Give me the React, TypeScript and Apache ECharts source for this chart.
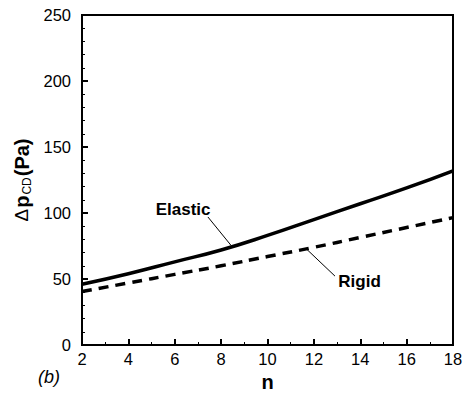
import React, { useEffect, useRef } from "react";
import * as echarts from "echarts";

const nValues = [2, 4, 6, 8, 10, 12, 14, 16, 18];
const elastic = [46, 54, 63, 72, 83, 95, 107, 119, 132];
const rigid = [40.5, 47, 53.5, 60, 67, 74, 81.5, 89, 96.5];

const FONT = "'Liberation Sans', Arial, Helvetica, sans-serif";

// annotations in data coordinates: label position, leader start, leader end
const annElastic = { text: "Elastic", label: [6.36, 103], from: [7.43, 97], to: [8.43, 75.4] };
const annRigid = { text: "Rigid", label: [13.97, 48.1], from: [12.91, 52.2], to: [11.7, 72.4] };

export default function App() {
  const ref = useRef<HTMLDivElement>(null);
  useEffect(() => {
    if (!ref.current) return;
    const chart = echarts.init(ref.current, null, { renderer: "svg" });
    const axisCommon = {
      axisLine: { show: true, onZero: false, lineStyle: { color: "#000", width: 2 } },
      axisTick: { show: true, inside: true, length: 6, lineStyle: { color: "#000", width: 2 } },
      minorTick: { show: true, length: 3, lineStyle: { color: "#000", width: 1 } },
      splitLine: { show: false },
      axisLabel: { color: "#000", fontFamily: FONT, fontSize: 16.5 },
    };
    chart.setOption({
      animation: false,
      backgroundColor: "#fff",
      grid: { left: 82, right: 13, top: 15, bottom: 49, show: true, borderColor: "#000", borderWidth: 2 },
      xAxis: {
        type: "value",
        min: 2,
        max: 18,
        interval: 2,
        ...axisCommon,
        minorTick: { ...axisCommon.minorTick, splitNumber: 2 },
        axisLabel: { ...axisCommon.axisLabel, margin: 5 },
        name: "n",
        nameLocation: "middle",
        nameGap: 27,
        nameTextStyle: { color: "#000", fontFamily: FONT, fontSize: 20, fontWeight: "bold" },
      },
      yAxis: {
        type: "value",
        min: 0,
        max: 250,
        interval: 50,
        ...axisCommon,
        minorTick: { ...axisCommon.minorTick, splitNumber: 5 },
        axisLabel: { ...axisCommon.axisLabel, margin: 11 },
        name: "{d|Δ}{p|p}{s|CD}{p|(Pa)}",
        nameLocation: "middle",
        nameRotate: 90,
        nameGap: 48,
        nameTextStyle: {
          color: "#000",
          fontFamily: FONT,
          rich: {
            d: { fontFamily: FONT, fontSize: 19, color: "#000", lineHeight: 22, padding: [0, 1, 0, 0] },
            p: { fontFamily: FONT, fontSize: 20, fontWeight: "bold", color: "#000", lineHeight: 22 },
            s: { fontFamily: FONT, fontSize: 12, color: "#000", verticalAlign: "bottom", lineHeight: 22, padding: [0, 1, 0, 1] },
          },
        },
      },
      series: [
        {
          name: "Elastic",
          type: "line",
          smooth: true,
          showSymbol: false,
          data: nValues.map((n, i) => [n, elastic[i]]),
          lineStyle: { color: "#000", width: 3.5 },
        },
        {
          name: "Rigid",
          type: "line",
          smooth: true,
          showSymbol: false,
          data: nValues.map((n, i) => [n, rigid[i]]),
          lineStyle: { color: "#000", width: 3.5, type: [10, 7] },
        },
      ],
    });
    const px = (p: number[]) => chart.convertToPixel({ gridIndex: 0 }, p) as number[];
    const annGraphic = (a: typeof annElastic) => {
      const l = px(a.label);
      const f = px(a.from);
      const t = px(a.to);
      return [
        {
          type: "text",
          x: l[0],
          y: l[1],
          style: { text: a.text, fill: "#000", font: `bold 17px ${FONT}`, textAlign: "center", textVerticalAlign: "middle" },
        },
        {
          type: "line",
          shape: { x1: f[0], y1: f[1], x2: t[0], y2: t[1] },
          style: { stroke: "#000", lineWidth: 1 },
        },
      ];
    };
    chart.setOption({
      graphic: [
        ...annGraphic(annElastic),
        ...annGraphic(annRigid),
        {
          type: "text",
          left: 38,
          top: 368,
          style: { text: "(b)", fill: "#000", font: `italic 18px ${FONT}` },
        },
      ],
    });
    return () => chart.dispose();
  }, []);
  return <div ref={ref} style={{ position: "absolute", left: 0, top: 0, width: 466, height: 397 }} />;
}
